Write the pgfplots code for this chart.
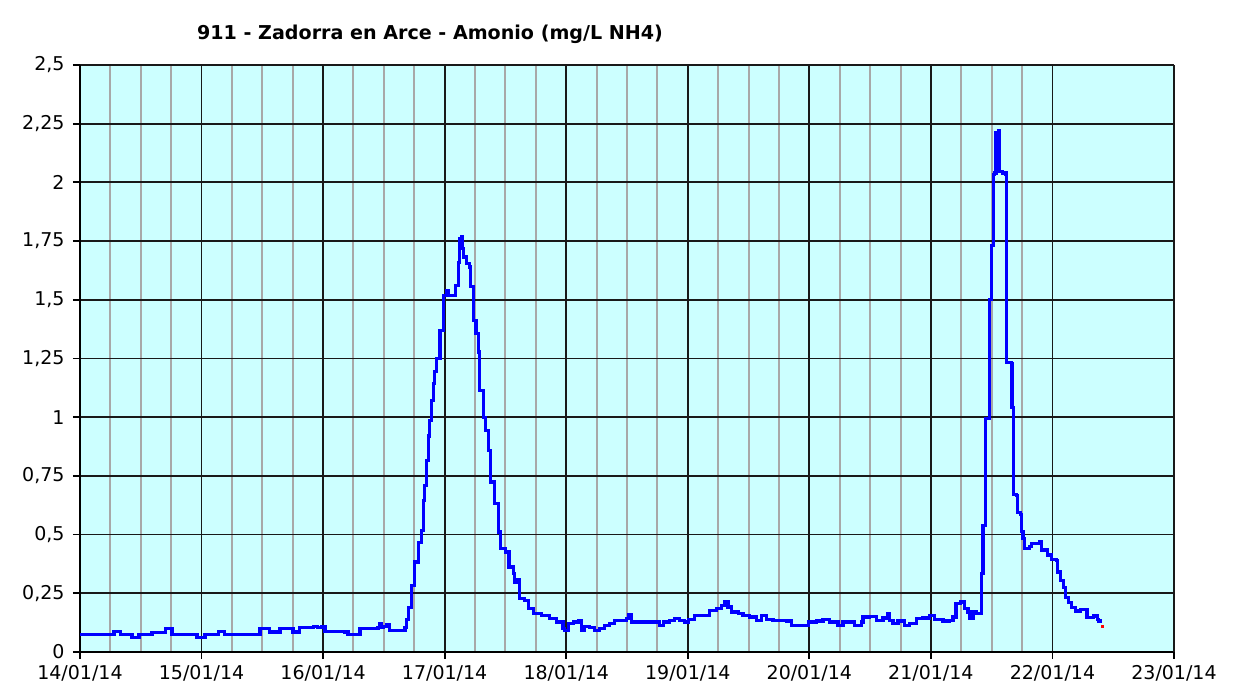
\documentclass[border=0pt]{standalone}
\usepackage{pgfplots}
\pgfplotsset{compat=1.18}
\usepackage{fontspec}
\setmainfont{DejaVu Sans}
\definecolor{plotbg}{HTML}{CCFFFF}
\definecolor{minorgrid}{HTML}{A8A8A8}
\begin{document}
\begin{tikzpicture}[x=1bp,y=1bp]
\path[fill=white] (-80,-38) rectangle (1176,652);
\begin{axis}[
  at={(0,0)}, anchor=south west,
  scale only axis, width=1094bp, height=587bp,
  xmin=0, xmax=9, ymin=0, ymax=2.5,
  axis background/.style={fill=plotbg},
  axis x line=bottom, axis y line=left,
  axis line style={-, black, line width=2bp},
  xtick={0,...,8},
  xticklabels={14/01/14,15/01/14,16/01/14,17/01/14,18/01/14,19/01/14,20/01/14,21/01/14,22/01/14},
  extra x ticks={9},
  extra x tick labels={23/01/14},
  extra x tick style={grid style={minorgrid, line width=2bp}},
  minor x tick num=3,
  ytick={0,0.25,...,2.5},
  yticklabels={0,{0,25},{0,5},{0,75},1,{1,25},{1,5},{1,75},2,{2,25},{2,5}},
  grid=both,
  major grid style={black!90, line width=1.8bp},
  minor grid style={minorgrid, line width=2bp},
  tick align=outside,
  major tick length=7bp,
  minor tick length=0bp,
  tick style={black, line width=1.8bp},
  ticklabel style={font=\fontsize{19bp}{21bp}\selectfont},
  yticklabel style={xshift=-5bp},
  xticklabel style={yshift=-3bp},
  clip=false,
]
\addplot[const plot, color=blue, line width=3.2bp, line join=miter] coordinates {
(0.000,0.075)(0.271,0.075)(0.280,0.088)(0.321,0.088)(0.330,0.075)(0.370,0.075)
(0.420,0.075)(0.428,0.062)(0.469,0.062)(0.485,0.075)(0.576,0.075)(0.592,0.082)
(0.699,0.082)(0.705,0.100)(0.724,0.100)(0.757,0.075)(0.946,0.075)(0.962,0.062)
(1.003,0.062)(1.028,0.075)(1.127,0.075)(1.140,0.088)(1.151,0.088)(1.192,0.075)
(1.456,0.075)(1.480,0.100)(1.521,0.100)(1.562,0.085)(1.620,0.085)(1.645,0.100)
(1.727,0.100)(1.752,0.085)(1.785,0.085)(1.809,0.105)(1.908,0.105)(1.924,0.110)
(1.957,0.105)(1.990,0.110)(2.015,0.088)(2.179,0.085)(2.204,0.075)(2.286,0.075)
(2.303,0.100)(2.451,0.105)(2.467,0.120)(2.480,0.105)(2.492,0.110)(2.525,0.115)
(2.549,0.090)(2.656,0.090)(2.673,0.105)(2.685,0.140)(2.700,0.190)(2.728,0.284)
(2.755,0.383)(2.782,0.468)(2.810,0.518)(2.823,0.646)(2.837,0.710)(2.851,0.816)
(2.865,0.920)(2.878,0.987)(2.892,1.070)(2.905,1.143)(2.919,1.193)(2.933,1.250)
(2.961,1.370)(2.988,1.519)
(3.016,1.540)(3.030,1.519)(3.084,1.519)(3.092,1.562)(3.111,1.660)(3.125,1.760)
(3.132,1.720)(3.139,1.768)(3.145,1.720)(3.152,1.682)(3.180,1.654)(3.207,1.640)
(3.213,1.555)(3.235,1.540)(3.240,1.413)(3.257,1.356)(3.276,1.278)(3.289,1.115)
(3.317,1.000)(3.339,0.944)(3.358,0.859)(3.378,0.724)(3.413,0.632)(3.440,0.511)
(3.460,0.440)(3.503,0.426)(3.530,0.362)(3.563,0.334)(3.577,0.298)(3.594,0.310)
(3.618,0.227)(3.660,0.220)(3.687,0.185)(3.728,0.163)(3.797,0.156)(3.865,0.142)
(3.920,0.128)(3.974,0.100)(3.988,0.090)(4.016,0.121)(4.057,0.128)(4.098,0.135)
(4.126,0.092)(4.153,0.109)(4.194,0.106)(4.235,0.092)(4.276,0.100)(4.317,0.113)
(4.359,0.120)(4.400,0.135)(4.455,0.135)(4.496,0.142)(4.517,0.160)(4.537,0.128)
(4.743,0.128)(4.770,0.113)(4.797,0.128)(4.852,0.135)(4.893,0.142)(4.934,0.135)
(4.975,0.128)(5.003,0.138)(5.058,0.156)(5.154,0.156)(5.181,0.178)(5.236,0.185)
(5.277,0.199)(5.304,0.213)(5.331,0.192)(5.359,0.170)(5.414,0.163)(5.455,0.156)
(5.510,0.149)(5.565,0.135)(5.606,0.156)(5.647,0.138)(5.701,0.135)(5.812,0.132)
(5.853,0.113)(5.948,0.113)(5.990,0.128)(6.058,0.132)(6.113,0.138)(6.168,0.128)
(6.236,0.113)(6.277,0.128)(6.332,0.128)(6.373,0.113)(6.428,0.128)(6.442,0.149)
(6.497,0.152)(6.552,0.135)(6.606,0.145)(6.647,0.163)(6.661,0.135)(6.688,0.120)
(6.730,0.132)(6.785,0.113)(6.826,0.120)(6.881,0.142)(6.935,0.145)(6.990,0.156)
(7.031,0.138)(7.099,0.132)(7.155,0.135)(7.182,0.149)(7.207,0.206)(7.243,0.213)
(7.278,0.185)(7.305,0.170)(7.319,0.142)(7.346,0.170)(7.374,0.163)(7.407,0.163)
(7.415,0.334)(7.428,0.540)(7.446,0.996)(7.479,1.500)(7.498,1.731)(7.512,2.034)
(7.525,2.040)(7.535,2.214)(7.545,2.180)(7.553,2.220)(7.562,2.207)(7.566,2.048)
(7.590,2.040)(7.618,2.034)(7.623,1.234)(7.660,1.227)(7.668,1.040)(7.678,0.672)
(7.706,0.665)(7.715,0.593)(7.734,0.586)(7.743,0.514)(7.757,0.485)(7.771,0.442)
(7.812,0.449)(7.826,0.463)(7.868,0.463)(7.891,0.470)(7.909,0.434)(7.951,0.434)
(7.957,0.413)(7.993,0.394)(8.035,0.391)(8.040,0.341)(8.063,0.305)(8.090,0.276)
(8.105,0.233)(8.133,0.211)(8.160,0.190)(8.188,0.175)(8.229,0.182)(8.257,0.182)
(8.285,0.146)(8.326,0.146)(8.340,0.153)(8.369,0.139)(8.382,0.132)(8.395,0.125)
};
\addplot[only marks, mark=square*, mark size=1.3bp, color=red] coordinates {(8.410,0.110)};
\end{axis}
\node[font=\bfseries\fontsize{19.1bp}{21bp}\selectfont, anchor=base] at (350,612) {911 - Zadorra en Arce - Amonio (mg/L NH4)};
\end{tikzpicture}
\end{document}
